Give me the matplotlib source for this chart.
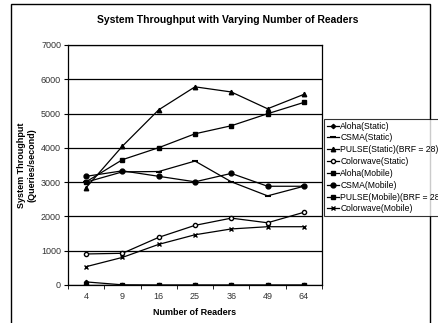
import matplotlib
matplotlib.use("Agg")
import matplotlib.pyplot as plt
from matplotlib.patches import Rectangle
import numpy as np

plt.rcParams['font.family'] = ['Liberation Sans', 'DejaVu Sans']

readers = ["4", "9", "16", "25", "36", "49", "64"]
aloha_static = [90, 5, 0, 0, 0, 0, 0]
csma_static = [3000, 3300, 3310, 3615, 3010, 2600, 2880]
pulse_static = [2840, 4050, 5110, 5780, 5630, 5140, 5560]
colorwave_static = [905, 925, 1390, 1740, 1950, 1815, 2120]
aloha_mobile = [0, 0, 0, 0, 0, 0, 0]
csma_mobile = [3170, 3330, 3170, 3010, 3255, 2880, 2880]
pulse_mobile = [3010, 3655, 4005, 4410, 4645, 4995, 5325]
colorwave_mobile = [535, 805, 1185, 1465, 1635, 1700, 1700]

series = [
    ("Aloha(Static)", aloha_static, dict(marker='D', ms=2.2, mfc='black')),
    ("CSMA(Static)", csma_static, dict(marker='_', ms=5, mew=1.5)),
    ("PULSE(Static)(BRF = 28)", pulse_static, dict(marker='^', ms=3.2, mfc='black')),
    ("Colorwave(Static)", colorwave_static, dict(marker='o', ms=3, mfc='white')),
    ("Aloha(Mobile)", aloha_mobile, dict(marker='s', ms=2.2, mfc='black')),
    ("CSMA(Mobile)", csma_mobile, dict(marker='o', ms=3.5, mfc='black')),
    ("PULSE(Mobile)(BRF = 28)", pulse_mobile, dict(marker='s', ms=3.2, mfc='black')),
    ("Colorwave(Mobile)", colorwave_mobile, dict(marker='x', ms=3.5, mew=1.0)),
]

fig = plt.figure(figsize=(4.38, 3.23), dpi=100)
fig.patches.append(Rectangle((11/438, -0.1), (430-11)/438, (323-4)/323 + 0.1,
                             transform=fig.transFigure, fill=False,
                             edgecolor='black', linewidth=1.0))

ax = fig.add_axes([68/438, 38/323, (322-68)/438, (285-45)/323])
x = np.arange(len(readers))
for label, vals, style in series:
    ax.plot(x, vals, color='black', linewidth=0.9, mec='black', label=label, **style)

ax.set_xlim(-0.5, len(readers) - 0.5)
ax.set_ylim(0, 7000)
ax.set_yticks(np.arange(0, 7001, 1000))
ax.yaxis.grid(True, color='black', linewidth=0.9)
ax.set_axisbelow(True)
ax.set_xticks(x)
ax.set_xticklabels(readers)
ax.set_xticks(np.arange(-0.5, len(readers), 1.0), minor=True)
ax.tick_params(axis='x', which='major', length=0, labelsize=6.5, colors='#333333', pad=5)
ax.tick_params(axis='x', which='minor', length=3, direction='out', color='black')
ax.tick_params(axis='y', length=3, direction='out', labelsize=6.5, labelcolor='#333333', pad=2)
for s in ax.spines.values():
    s.set_linewidth(0.9)
    s.set_color('black')

ax.set_xlabel("Number of Readers", fontsize=6.5, fontweight='bold', labelpad=5)
ax.set_ylabel("System Throughput\n(Queries/second)", fontsize=6.5, fontweight='bold', labelpad=3)
fig.text(228/438, 1 - 20/323, "System Throughput with Varying Number of Readers",
         ha='center', va='center', fontsize=7.5, fontweight='bold')

leg = fig.legend(loc='upper left', bbox_to_anchor=(324/438, 1 - 119/323),
                 fontsize=6.2, frameon=True, fancybox=False, edgecolor='black',
                 handlelength=1.4, handletextpad=0.2, labelspacing=0.33,
                 borderpad=0.3, borderaxespad=0)
leg.get_frame().set_linewidth(0.8)

fig.savefig("out.png", dpi=100)
